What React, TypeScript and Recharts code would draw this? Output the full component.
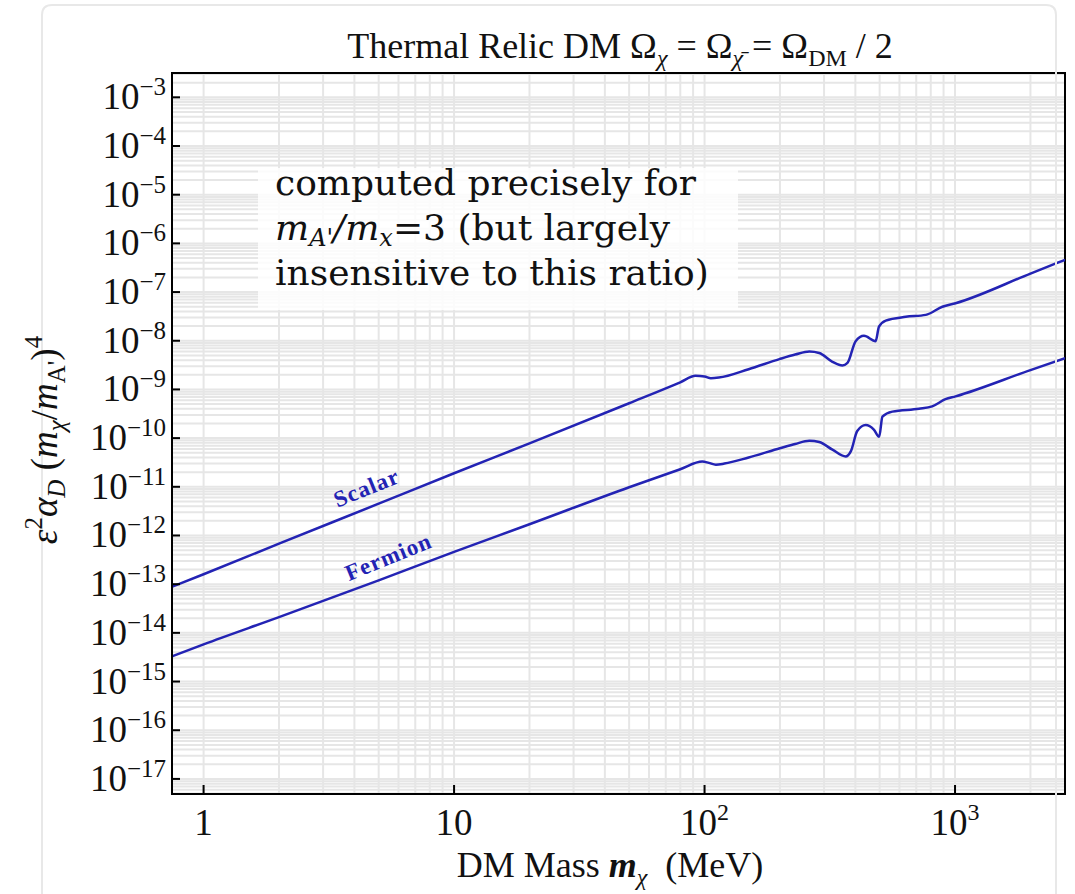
import {
  CartesianGrid,
  Line,
  LineChart,
  ReferenceArea,
  ReferenceDot,
  XAxis,
  YAxis
} from "recharts"

// DM mass (MeV) and relic target for the scalar curve
const scalarMass = [
  0.75, 1, 2, 5, 10, 20, 50, 80, 92, 100, 106, 114, 150, 199, 230, 262, 287,
  324, 355, 372, 401, 433, 482, 497, 529, 636, 764, 890, 1005, 2000, 2750
]
const scalarValue = [
  8.9e-14, 1.6e-13, 6.8e-13, 4.5e-12, 1.9e-11, 7.8e-11, 5.2e-10, 1.4e-9,
  1.9e-9, 1.85e-9, 1.7e-9, 1.75e-9, 2.6e-9, 4.2e-9, 5.2e-9, 6.0e-9, 5.6e-9,
  3.7e-9, 3.1e-9, 3.5e-9, 9.8e-9, 1.26e-8, 9.8e-9, 1.95e-8, 2.6e-8, 3.1e-8,
  3.4e-8, 5.0e-8, 5.9e-8, 2.4e-7, 4.6e-7
]

// same for the fermion curve
const fermionMass = [
  0.75, 1, 2, 5, 10, 20, 50, 80, 98, 104, 111, 120, 150, 200, 230, 262, 287,
  324, 366, 384, 407, 440, 474, 498, 513, 562, 718, 811, 916, 1005, 2000, 2750
]
const fermionValue = [
  3.3e-15, 5.8e-15, 2.1e-14, 1.2e-13, 4.6e-13, 1.7e-12, 9.8e-12, 2.3e-11,
  3.3e-11, 3.1e-11, 2.85e-11, 3.0e-11, 4.0e-11, 6.2e-11, 7.6e-11, 8.8e-11,
  8.3e-11, 5.8e-11, 4.2e-11, 5.4e-11, 1.4e-10, 1.86e-10, 1.5e-10, 1.07e-10,
  2.75e-10, 3.5e-10, 4.0e-10, 4.5e-10, 6.3e-10, 7.2e-10, 2.5e-9, 4.4e-9
]

// curve labels, placed in data coordinates
const labelNames = ["Scalar", "Fermion"]
const labelMass = [4.47, 5.47]
const labelValue = [9.5e-12, 3.6e-13]

const xDomain = [0.748, 2748]
const yDomain = [4.9e-18, 3.16e-3]
const xDecades = [1, 10, 100, 1000]
const yDecades = [
  1e-18, 1e-17, 1e-16, 1e-15, 1e-14, 1e-13, 1e-12, 1e-11, 1e-10, 1e-9, 1e-8,
  1e-7, 1e-6, 1e-5, 1e-4, 1e-3
]
const steps = [1, 2, 3, 4, 5, 6, 7, 8, 9]

const xTicks = xDecades
  .flatMap((d) => steps.map((s) => s * d))
  .filter((v) => v >= 1 && v <= xDomain[1])
const yTicks = yDecades
  .flatMap((d) => steps.map((s) => s * d))
  .filter((v) => v >= yDomain[0] && v <= yDomain[1])

const scalarData = scalarMass.map((m, i) => ({ m, v: scalarValue[i] }))
const fermionData = fermionMass.map((m, i) => ({ m, v: fermionValue[i] }))

const BLUE = "#2323b4"
const SERIF = "'Liberation Serif', 'Times New Roman', serif"

const majorExp = (v: number) => {
  const l = Math.log10(v)
  const e = Math.round(l)
  return Math.abs(l - e) < 1e-6 ? e : null
}

const YTick = (props: any) => {
  const { x, y, payload } = props
  const e = majorExp(payload.value)
  if (e === null) return <g />
  const edge = x + 8
  return (
    <g>
      <line x1={edge} x2={edge + 8} y1={y} y2={y} stroke="#000" strokeWidth={2} />
      <text x={edge - 6} y={y + 12} textAnchor="end" fontFamily={SERIF} fontSize={37} fill="#111">
        10
        <tspan dy={-14} fontSize={25}>
          {"\u2212" + Math.abs(e)}
        </tspan>
      </text>
    </g>
  )
}

const XTick = (props: any) => {
  const { x, y, payload } = props
  const e = majorExp(payload.value)
  if (e === null) return <g />
  const edge = y - 8
  return (
    <g>
      <line x1={x} x2={x} y1={edge} y2={edge - 9} stroke="#000" strokeWidth={2} />
      <text x={x} y={edge + 41} textAnchor="middle" fontFamily={SERIF} fontSize={37} fill="#111">
        {e === 0 ? "1" : "10"}
        {e >= 2 && (
          <tspan dy={-15} fontSize={24}>
            {e}
          </tspan>
        )}
      </text>
    </g>
  )
}

const curveLabel = (name: string) => (p: any) =>
  (
    <text
      x={p.cx}
      y={p.cy}
      transform={`rotate(-22 ${p.cx} ${p.cy})`}
      textAnchor="middle"
      dominantBaseline="central"
      fontFamily={SERIF}
      fontWeight="bold"
      fontSize={23}
      letterSpacing={1}
      fill={BLUE}
    >
      {name}
    </text>
  )

const Overlay = () => (
  <svg
    width={1075}
    height={894}
    style={{ position: "absolute", left: 0, top: 0, pointerEvents: "none" }}
  >
    <path
      d="M42 904 L42 15 Q42 5 52 5 L1046 5 Q1056 5 1056 15 L1056 904"
      fill="none"
      stroke="#e8e8e8"
      strokeWidth={2}
    />
    <text x={620} y={58} textAnchor="middle" fontFamily={SERIF} fontSize={36} fill="#111">
      Thermal Relic DM Ω<tspan dy={8} fontSize={24} fontStyle="italic">χ</tspan>
      <tspan dy={-8}> = Ω</tspan>
      <tspan dy={8} fontSize={24} fontStyle="italic">{"χ\u0304"}</tspan>
      <tspan dy={-8}> = Ω</tspan>
      <tspan dy={8} fontSize={24}>DM</tspan>
      <tspan dy={-8}> / 2</tspan>
    </text>

    <rect x={258} y={168} width={480} height={142} fill="#fff" fillOpacity={0.82} />
    <g fontFamily="'DejaVu Serif', serif" fontSize={36} fill="#111">
      <text x={275} y={195}>computed precisely for</text>
      <text x={275} y={240}>
        <tspan fontStyle="italic">m</tspan>
        <tspan dy={6} fontSize={24} fontStyle="italic">A'</tspan>
        <tspan dy={-6} fontStyle="italic">/m</tspan>
        <tspan dy={6} fontSize={24} fontStyle="italic">x</tspan>
        <tspan dy={-6}>=3 (but largely</tspan>
      </text>
      <text x={275} y={285}>insensitive to this ratio)</text>
    </g>

    <text x={610} y={877} textAnchor="middle" fontFamily={SERIF} fontSize={36} fill="#111">
      DM Mass <tspan fontStyle="italic" fontWeight="bold">m</tspan>
      <tspan dy={8} fontSize={24} fontStyle="italic">χ</tspan>
      <tspan dy={-8}>{"\u2002(MeV)"}</tspan>
    </text>

    <text
      transform="translate(57,440) rotate(-90)"
      textAnchor="middle"
      fontFamily={SERIF}
      fontSize={37}
      fill="#111"
    >
      <tspan fontStyle="italic">ε</tspan>
      <tspan dy={-15} fontSize={25}>2</tspan>
      <tspan dy={15} fontStyle="italic">α</tspan>
      <tspan dy={8} fontSize={25} fontStyle="italic">D</tspan>
      <tspan dy={-8}> (</tspan>
      <tspan fontStyle="italic">m</tspan>
      <tspan dy={8} fontSize={25} fontStyle="italic">χ</tspan>
      <tspan dy={-8}>/</tspan>
      <tspan fontStyle="italic">m</tspan>
      <tspan dy={8} fontSize={25}>A'</tspan>
      <tspan dy={-8}>)</tspan>
      <tspan dy={-15} fontSize={25}>4</tspan>
    </text>
  </svg>
)

const App = () => {
  return (
    <div
      style={{
        position: "absolute",
        left: 0,
        top: 0,
        width: 1075,
        height: 894,
        background: "#fff"
      }}
    >
      <LineChart
        width={1075}
        height={894}
        margin={{ top: 73, right: 10, bottom: 40, left: 42 }}
      >
        <CartesianGrid stroke="#e6e6e6" strokeWidth={2} />
        <XAxis
          dataKey="m"
          type="number"
          scale="log"
          domain={xDomain}
          allowDataOverflow
          ticks={xTicks}
          interval={0}
          height={60}
          tickSize={0}
          tickMargin={8}
          tickLine={false}
          axisLine={{ stroke: "#000", strokeWidth: 2 }}
          tick={<XTick />}
        />
        <YAxis
          dataKey="v"
          type="number"
          scale="log"
          domain={yDomain}
          allowDataOverflow
          ticks={yTicks}
          interval={0}
          width={130}
          tickSize={0}
          tickMargin={8}
          tickLine={false}
          axisLine={{ stroke: "#000", strokeWidth: 2 }}
          tick={<YTick />}
        />
        <ReferenceArea
          x1={xDomain[0]}
          x2={xDomain[1]}
          y1={yDomain[0]}
          y2={yDomain[1]}
          fill="none"
          stroke="#000"
          strokeWidth={2}
        />
        <Line
          data={scalarData}
          dataKey="v"
          type="monotone"
          stroke={BLUE}
          strokeWidth={2.5}
          dot={false}
          isAnimationActive={false}
        />
        <Line
          data={fermionData}
          dataKey="v"
          type="monotone"
          stroke={BLUE}
          strokeWidth={2.5}
          dot={false}
          isAnimationActive={false}
        />
        {labelNames.map((name, i) => (
          <ReferenceDot
            key={name}
            x={labelMass[i]}
            y={labelValue[i]}
            r={0}
            shape={curveLabel(name)}
          />
        ))}
      </LineChart>
      <Overlay />
    </div>
  )
}

export default App
